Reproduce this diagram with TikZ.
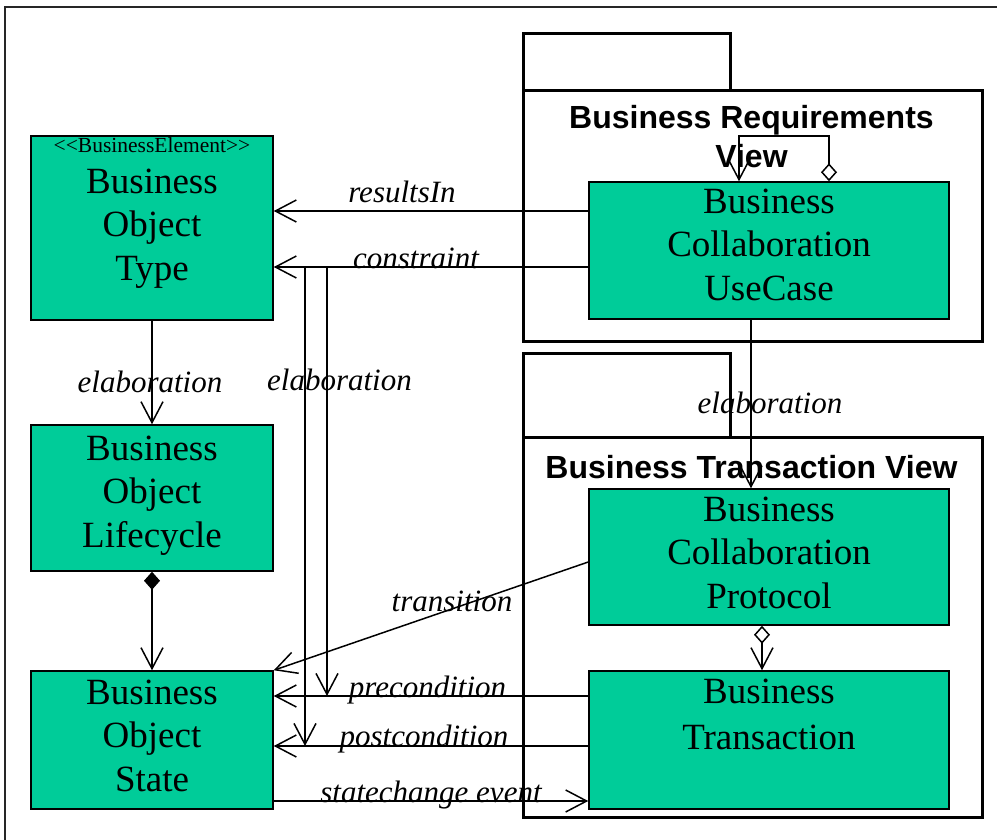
\documentclass[tikz,border=0pt]{standalone}
\usepackage{fontspec}
\setmainfont{Liberation Serif}
\newfontfamily\pkgfont{Liberation Sans}
\usetikzlibrary{arrows.meta}
\definecolor{boxgreen}{RGB}{0,204,153}

\begin{document}
\begin{tikzpicture}[x=1pt,y=-1pt,
  box/.style={draw=black, fill=boxgreen, line width=1.5pt, inner sep=0pt},
  pkg/.style={draw=black, line width=3pt},
  big/.style={font=\fontsize{37}{43.5}\selectfont, inner sep=0pt, anchor=base},
  stereo/.style={font=\fontsize{21.5}{24}\selectfont, inner sep=0pt, anchor=base},
  lbl/.style={font=\fontsize{31}{36}\selectfont\itshape, inner sep=0pt, anchor=base},
  ttl/.style={font=\pkgfont\bfseries\fontsize{32}{38}\selectfont, inner sep=0pt, anchor=base},
  barb/.tip={Straight Barb[length=21pt,width=22pt,line width=1.5pt]},
  conn/.style={line width=1.5pt, -barb},
  comp/.style={line width=1.5pt, {Diamond[length=18pt,width=16pt]}-barb},
  aggr/.style={line width=1.5pt, {Diamond[open,length=18pt,width=16pt,line width=1.5pt]}-barb},
]
\useasboundingbox (0,0) rectangle (997,839);

% outer frame (only top and left edges fall inside the page)
\draw[line width=2pt, black!85] (5,900) -- (5,7) -- (1100,7);

% packages
\draw[pkg] (523,90) -- (523,33) -- (730,33) -- (730,90);
\draw[pkg] (523,90) rectangle (982,341);
\draw[pkg] (523,437) -- (523,353) -- (730,353) -- (730,437);
\draw[pkg] (523,437) rectangle (982,817);
\node[ttl] (brvA) at (751.5,128) {Business Requirements};
\node[ttl] (brvB) at (751.5,167) {View};
\node[ttl] (btvA) at (751.5,478) {Business Transaction View};

% classes
\node[box, minimum width=242pt, minimum height=184pt] (bot) at (152,228) {};
\node[box, minimum width=242pt, minimum height=146pt] (bol) at (152,498) {};
\node[box, minimum width=242pt, minimum height=138pt] (bos) at (152,740) {};
\node[box, minimum width=360pt, minimum height=137pt] (bcuc) at (769,250.5) {};
\node[box, minimum width=360pt, minimum height=136pt] (bcp) at (769,557) {};
\node[box, minimum width=360pt, minimum height=138pt] (bt) at (769,740) {};

% class texts
\node[stereo] (botS) at (152,152) {<{}<BusinessElement>{}>};
\node[big] (bot1) at (152,193) {Business};
\node[big] (bot2) at (152,236.5) {Object};
\node[big] (bot3) at (152,280) {Type};

\node[big] (bol1) at (152,460) {Business};
\node[big] (bol2) at (152,503.5) {Object};
\node[big] (bol3) at (152,547) {Lifecycle};

\node[big] (bos1) at (152,704) {Business};
\node[big] (bos2) at (152,747.5) {Object};
\node[big] (bos3) at (152,791) {State};

\node[big] (bcuc1) at (769,213) {Business};
\node[big] (bcuc2) at (769,256.5) {Collaboration};
\node[big] (bcuc3) at (769,300) {UseCase};

\node[big] (bcp1) at (769,521) {Business};
\node[big] (bcp2) at (769,564.5) {Collaboration};
\node[big] (bcp3) at (769,608) {Protocol};

\node[big] (bt1) at (769,703) {Business};
\node[big] (bt2) at (769,749) {Transaction};

% connectors
\draw[conn] (bcuc.west |- 0,211) -- (bot.east |- 0,211);
\draw[conn] (bcuc.west |- 0,267) -- (bot.east |- 0,267);
\draw[conn] (bot.south) -- (bol.north);
\draw[comp] (bol.south) -- (bos.north);
\draw[conn] (751,0 |- bcuc.south) -- (751,0 |- bcp.north);
\draw[aggr] (829,0 |- bcuc.north) -- (829,136) -- (739,136) -- (739,0 |- bcuc.north);
\draw[aggr] (762,0 |- bcp.south) -- (762,0 |- bt.north);
\draw[conn] (bcp.west |- 0,562) -- (bos.north east);
\draw[conn] (bt.west |- 0,696) -- (bos.east |- 0,696);
\draw[conn] (bt.west |- 0,746) -- (bos.east |- 0,746);
\draw[conn] (bos.east |- 0,801) -- (bt.west |- 0,801);

% elaboration branches from the constraint link
\coordinate (ca) at (305,267);
\coordinate (cb) at (327,267);
\coordinate (pa) at (305,746);
\coordinate (pb) at (327,696);
\draw[conn] (cb) -- (pb);
\draw[conn] (ca) -- (pa);

% connector labels
\node[lbl] (lRes) at (402,202) {resultsIn};
\node[lbl] (lCon) at (416,268) {constraint};
\node[lbl] (lEl1) at (150,392) {elaboration};
\node[lbl] (lEl2) at (339.5,390) {elaboration};
\node[lbl] (lEl3) at (770,413) {elaboration};
\node[lbl] (lTra) at (452,611) {transition};
\node[lbl] (lPre) at (427.5,697) {precondition};
\node[lbl] (lPost) at (424,746) {postcondition};
\node[lbl] (lSce) at (431,802) {statechange event};
\end{tikzpicture}
\end{document}
